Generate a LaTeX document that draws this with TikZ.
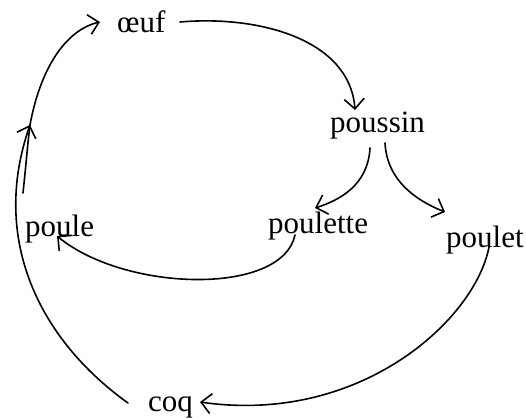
\documentclass[tikz,border=0pt]{standalone}
\usepackage{fontspec}
\setmainfont{Liberation Serif}
\usetikzlibrary{arrows.meta,calc}
\begin{document}
\begin{tikzpicture}[x=1pt,y=-1pt,
  lbl/.style={inner sep=0pt,anchor=base west,font=\fontsize{31}{36}\selectfont},
  link/.style={line width=1.6pt,line cap=round},
  arr/.style={link,-{Straight Barb[length=10pt,width=20pt]}}]
\useasboundingbox (0,0) rectangle (526,418);
\node[lbl] (oeuf) at (117,32) {œuf};
\node[lbl] (poussin) at (330,132) {poussin};
\node[lbl] (poulette) at (268,233) {poulette};
\node[lbl] (poulet) at (446,247) {poulet};
\node[lbl] (poule) at (25,236) {poule};
\node[lbl] (coq) at (148,411) {coq};
\coordinate (j) at (30,125);
% oeuf -> poussin
\draw[arr] ($(oeuf.base west)+(63,-10)$) .. controls (260,15) and (350,40) .. ($(poussin.base west)+(25,-22)$);
% poussin -> poulette
\draw[arr] ($(poussin.base west)+(40,16)$) .. controls (368,185) and (340,200) .. ($(poulette.base west)+(47,-25)$);
% poussin -> poulet
\draw[arr] ($(poussin.base west)+(55,11)$) .. controls (387,180) and (415,200) .. ($(poulet.base west)+(-1,-35)$);
% poulette -> poule
\draw[arr] ($(poulette.base west)+(27,2)$) .. controls (282,296) and (125,292) .. ($(poule.base west)+(32,0)$);
% poulet -> coq
\draw[arr] ($(poulet.base west)+(43,0)$) .. controls (475,320) and (360,425) .. ($(coq.base west)+(52,-9)$);
% coq -> junction
\draw[arr] ($(coq.base west)+(-20,-8)$) .. controls (40,340) and (-10,240) .. (j);
% poule -> junction
\draw[link] ($(poule.base west)+(-2,-43)$) .. controls (26,165) and (28,140) .. (j);
% junction -> oeuf
\draw[arr] (j) .. controls (40,70) and (65,30) .. ($(oeuf.base west)+(-17,-10)$);
\end{tikzpicture}
\end{document}
